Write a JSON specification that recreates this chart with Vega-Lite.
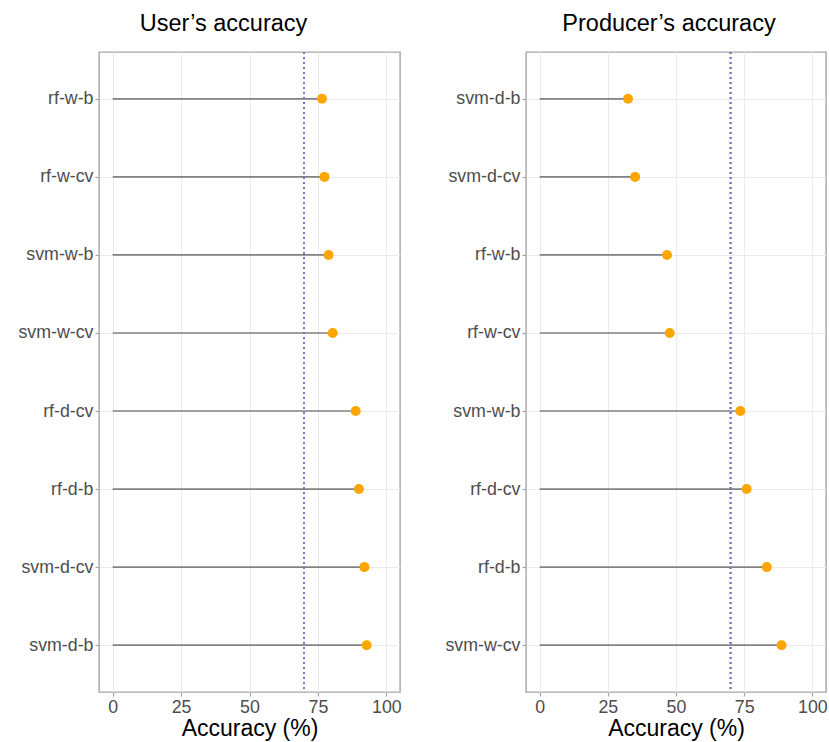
{
  "$schema": "https://vega.github.io/schema/vega-lite/v6.json",
  "background": "white",
  "padding": {"left": 17, "top": 11, "right": 1, "bottom": 2},
  "config": {
    "font": "Liberation Sans",
    "view": {"stroke": "#a6a6a6", "strokeWidth": 1.4},
    "title": {"fontSize": 23.5, "fontWeight": "normal", "color": "black", "anchor": "middle", "frame": "group", "offset": 16, "font": "Liberation Sans"},
    "axis": {
      "labelFont": "Liberation Sans",
      "labelFontSize": 17.8,
      "labelColor": "#4d4d4d",
      "tickColor": "#a6a6a6",
      "tickSize": 4,
      "tickWidth": 1.2,
      "domain": false,
      "gridColor": "#ebebeb",
      "titleFont": "Liberation Sans",
      "titleFontSize": 23,
      "titleFontWeight": "normal",
      "titleColor": "black"
    },
    "concat": {"spacing": 42}
  },
  "datasets": {
    "users": [
      {"model": "rf-w-b", "acc": 76.5},
      {"model": "rf-w-cv", "acc": 77.4},
      {"model": "svm-w-b", "acc": 78.9},
      {"model": "svm-w-cv", "acc": 80.4},
      {"model": "rf-d-cv", "acc": 88.8},
      {"model": "rf-d-b", "acc": 90.0},
      {"model": "svm-d-cv", "acc": 92.0},
      {"model": "svm-d-b", "acc": 92.8}
    ],
    "producers": [
      {"model": "svm-d-b", "acc": 32.4},
      {"model": "svm-d-cv", "acc": 35.0},
      {"model": "rf-w-b", "acc": 46.7},
      {"model": "rf-w-cv", "acc": 47.7},
      {"model": "svm-w-b", "acc": 73.6},
      {"model": "rf-d-cv", "acc": 75.9},
      {"model": "rf-d-b", "acc": 83.3},
      {"model": "svm-w-cv", "acc": 88.7}
    ]
  },
  "hconcat": [
    {
      "title": {"text": "User’s accuracy", "dx": -26},
      "width": 301,
      "height": 640,
      "data": {"name": "users"},
      "layer": [
        {
          "mark": {"type": "rule", "color": "#828282", "strokeWidth": 1.7},
          "encoding": {
            "y": {"field": "model", "type": "nominal", "sort": {"field": "acc", "order": "ascending"}, "scale": {"type": "point", "padding": 0.6}, "axis": {"title": null, "grid": true, "labelPadding": 2}},
            "x": {"field": "acc", "type": "quantitative", "scale": {"domain": [-5, 105], "nice": false, "zero": false},
              "axis": {"title": "Accuracy (%)", "values": [0, 12.5, 25, 37.5, 50, 62.5, 75, 87.5, 100],
                "labelExpr": "datum.value % 25 == 0 ? format(datum.value, 'd') : ''",
                "tickColor": {"condition": {"test": "datum.value % 25 == 0", "value": "#a6a6a6"}, "value": "transparent"},
                "gridColor": {"condition": {"test": "datum.value % 25 == 0", "value": "#ebebeb"}, "value": "#f4f4f4"},
                "labelPadding": 2, "titlePadding": 2}},
            "x2": {"datum": 0}
          }
        },
        {
          "mark": {"type": "rule", "color": "#7b72cc", "strokeDash": [2, 3], "strokeWidth": 1.3},
          "encoding": {"x": {"datum": 70, "type": "quantitative"}}
        },
        {
          "mark": {"type": "point", "filled": true, "color": "#ffa500", "opacity": 1, "size": 100},
          "encoding": {
            "y": {"field": "model", "type": "nominal", "sort": {"field": "acc", "order": "ascending"}},
            "x": {"field": "acc", "type": "quantitative"}
          }
        }
      ]
    },
    {
      "title": {"text": "Producer’s accuracy", "dx": -7},
      "width": 300,
      "height": 640,
      "data": {"name": "producers"},
      "layer": [
        {
          "mark": {"type": "rule", "color": "#828282", "strokeWidth": 1.7},
          "encoding": {
            "y": {"field": "model", "type": "nominal", "sort": {"field": "acc", "order": "ascending"}, "scale": {"type": "point", "padding": 0.6}, "axis": {"title": null, "grid": true, "labelPadding": 2}},
            "x": {"field": "acc", "type": "quantitative", "scale": {"domain": [-5, 105], "nice": false, "zero": false},
              "axis": {"title": "Accuracy (%)", "values": [0, 12.5, 25, 37.5, 50, 62.5, 75, 87.5, 100],
                "labelExpr": "datum.value % 25 == 0 ? format(datum.value, 'd') : ''",
                "tickColor": {"condition": {"test": "datum.value % 25 == 0", "value": "#a6a6a6"}, "value": "transparent"},
                "gridColor": {"condition": {"test": "datum.value % 25 == 0", "value": "#ebebeb"}, "value": "#f4f4f4"},
                "labelPadding": 2, "titlePadding": 2}},
            "x2": {"datum": 0}
          }
        },
        {
          "mark": {"type": "rule", "color": "#7b72cc", "strokeDash": [2, 3], "strokeWidth": 1.3},
          "encoding": {"x": {"datum": 70, "type": "quantitative"}}
        },
        {
          "mark": {"type": "point", "filled": true, "color": "#ffa500", "opacity": 1, "size": 100},
          "encoding": {
            "y": {"field": "model", "type": "nominal", "sort": {"field": "acc", "order": "ascending"}},
            "x": {"field": "acc", "type": "quantitative"}
          }
        }
      ]
    }
  ]
}
